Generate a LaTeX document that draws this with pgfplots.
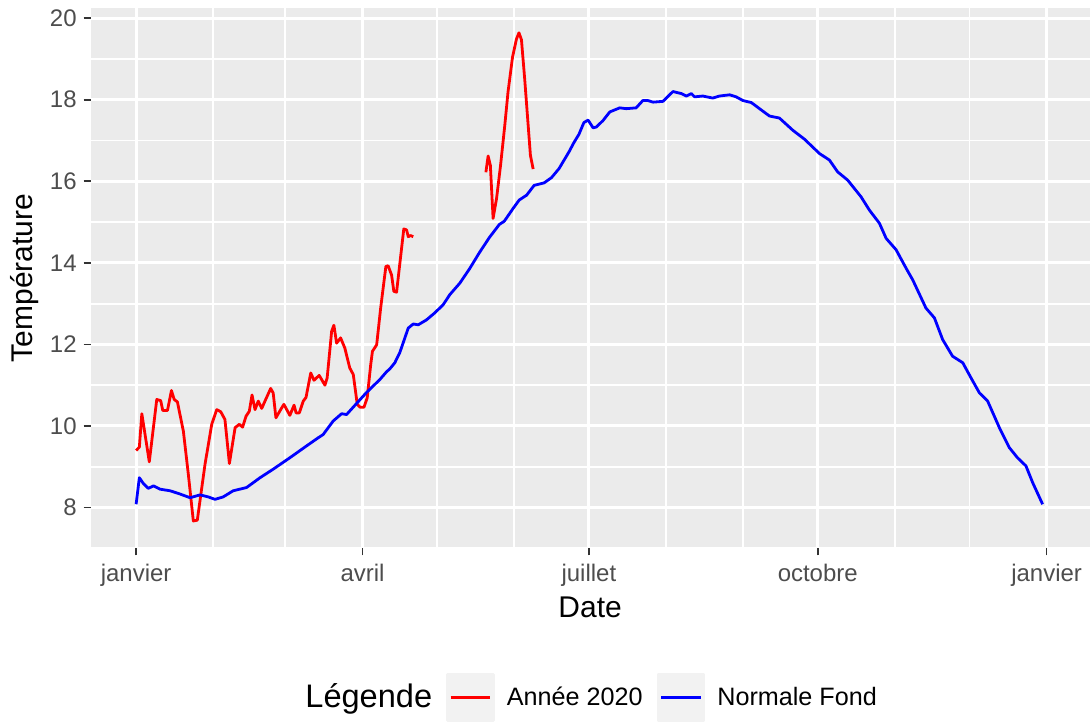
\documentclass[border=0pt]{standalone}
\usepackage{pgfplots}
\pgfplotsset{compat=1.18}
\usepackage{pgfplotstable}
\usepackage{fontspec}
\setmainfont{Liberation Sans}

\definecolor{panel}{HTML}{EBEBEB}
\definecolor{keybg}{HTML}{F2F2F2}
\definecolor{ticktext}{HTML}{4D4D4D}
\definecolor{tickline}{HTML}{333333}

% jour de l'annee (0 = 1er janvier 2020), temperature
\pgfplotstableread{
jour temp
0    9.40
1.3  9.48
2.3  10.30
5.3  9.12
8.3  10.65
9.9  10.62
10.7 10.38
12.6 10.38
14.2 10.87
15.3 10.65
16.6 10.59
19   9.87
21   8.81
23   7.67
24.6 7.69
27.7 9.06
30.4 10.04
32.4 10.40
34   10.35
35.7 10.16
37.5 9.08
39.8 9.96
41.5 10.04
42.8 9.97
44.2 10.24
45.5 10.36
46.6 10.76
47.8 10.40
49.1 10.61
50.5 10.43
51.8 10.61
54.1 10.92
55.1 10.81
56.2 10.20
58.1 10.40
59.4 10.53
61.8 10.26
63.5 10.51
64.3 10.32
65.6 10.32
67.2 10.61
68.3 10.70
70.2 11.30
71.5 11.12
73.6 11.24
75.9 11.00
76.8 11.18
78.6 12.32
79.5 12.47
80.6 12.03
82.2 12.16
83.9 11.91
85.9 11.42
87.3 11.26
88.9 10.53
90   10.46
91.6 10.46
92.9 10.69
94.3 11.50
95   11.83
96.7 11.99
98.3 12.89
100.4 13.91
101.3 13.93
102.7 13.70
103.6 13.30
104.7 13.28
107.6 14.83
108.7 14.81
109.4 14.64
110.3 14.67
111.4 14.64
}\anneeA

\pgfplotstableread{
jour temp
140.6 16.22
141.5 16.62
142.4 16.39
143.5 15.09
144.9 15.58
146.5 16.39
148.2 17.37
149.5 18.19
151.3 19.04
152.9 19.49
153.9 19.64
154.9 19.47
156.2 18.51
157.6 17.37
158.5 16.64
159.6 16.30
}\anneeB

\pgfplotstableread{
jour temp
0     8.08
1.3   8.73
2.9   8.59
4.9   8.47
7     8.53
9.6   8.45
13.7  8.41
17.7  8.33
21.7  8.24
25.7  8.31
29    8.26
31.7  8.20
35    8.26
39    8.41
44.4  8.49
49.8  8.73
55.1  8.94
61.8  9.22
68.5  9.51
73.2  9.71
75.2  9.79
79.2  10.12
82.6  10.30
84.6  10.28
88.6  10.55
92.6  10.82
98    11.14
100.7 11.33
102   11.40
104   11.55
106   11.80
109.4 12.40
111.4 12.50
113.4 12.48
116.7 12.60
120   12.77
123.4 12.97
126.1 13.22
130.1 13.50
134   13.85
138   14.25
142   14.62
146   14.94
148   15.02
151.5 15.33
154   15.54
157   15.66
160   15.90
164   15.96
167   16.09
170   16.31
174   16.72
176   16.95
178   17.15
180   17.44
181.7 17.50
183.7 17.31
185   17.33
187.7 17.49
190.4 17.70
194.4 17.80
197   17.78
201   17.80
203.7 17.98
205.7 17.98
207.8 17.94
211.8 17.96
215.8 18.20
219.2 18.15
221.2 18.09
223.2 18.15
224.5 18.07
227.8 18.09
231.8 18.04
234.5 18.09
238.6 18.12
241.2 18.07
243.9 17.98
247.3 17.93
250.6 17.78
254.6 17.60
258.6 17.55
264   17.25
268.7 17.03
274.7 16.68
278.7 16.52
282   16.23
286   16.03
291.4 15.62
294.8 15.29
298.8 14.97
301.5 14.60
305.5 14.32
309.5 13.87
312.2 13.58
317.5 12.89
320.9 12.65
324.2 12.12
328.2 11.71
332.3 11.55
335.6 11.18
339   10.81
342.3 10.61
347   9.96
351   9.47
354.3 9.22
357.7 9.02
360.4 8.61
364.4 8.08
}\normale

\begin{document}
\begin{tikzpicture}
\begin{axis}[
    scale only axis,
    width=500pt, height=270.5pt,
    xmin=-18.25, xmax=383.25,
    ymin=7.0, ymax=20.25,
    axis background/.style={fill=panel},
    axis line style={draw=none},
    tick pos=left,
    tick align=outside,
    major tick length=3.5pt,
    minor tick length=0pt,
    tick style={tickline, line width=0.8pt},
    xtick={0,91,182,274,366},
    xticklabels={janvier,avril,juillet,octobre,janvier},
    minor xtick={31,60,121,152,213,244,305,335},
    ytick={8,10,...,20},
    minor ytick={7,9,...,19},
    grid=both,
    major grid style={white, line width=1.5pt},
    minor grid style={white, line width=0.9pt},
    /pgf/number format/assume math mode=true,
    tick label style={font=\fontsize{12}{14}\selectfont, text=ticktext},
    xticklabel style={yshift=-1pt},
    every axis x label/.style={at={(rel axis cs:0.5,0)}, anchor=base, yshift=-34.5pt},
    every axis y label/.style={at={(rel axis cs:0,0.5)}, xshift=-33pt, rotate=90, anchor=center},
    label style={font=\fontsize{15}{18}\selectfont},
    xlabel={Date},
    ylabel={Température},
    legend style={at={(0.497,-0.276)}, anchor=center, draw=none, fill=none,
        legend columns=3, font=\fontsize{12.6}{15}\selectfont,
        cells={anchor=west},
        /tikz/every odd column/.append style={column sep=4pt},
        /tikz/every even column/.append style={column sep=5pt}},
    legend image code/.code={
        \fill[keybg] (0pt,-11.5pt) rectangle (23pt,11.5pt);
        \draw[#1] (1.5pt,0pt) -- (21.5pt,0pt);
    },
]
\addlegendimage{empty legend}
\addlegendentry{\fontsize{16.3}{19}\selectfont Légende}

\addplot[red, line width=1.4pt, line join=round] table[x=jour, y=temp] {\anneeA};
\addlegendentry{Année 2020}
\addplot[red, line width=1.4pt, line join=round, forget plot] table[x=jour, y=temp] {\anneeB};

\addplot[blue, line width=1.4pt, line join=round] table[x=jour, y=temp] {\normale};
\addlegendentry{Normale Fond}
\end{axis}
\path ([yshift=1.5pt]current axis.outer north) ([xshift=-2pt]current axis.outer west);
\end{tikzpicture}
\end{document}
